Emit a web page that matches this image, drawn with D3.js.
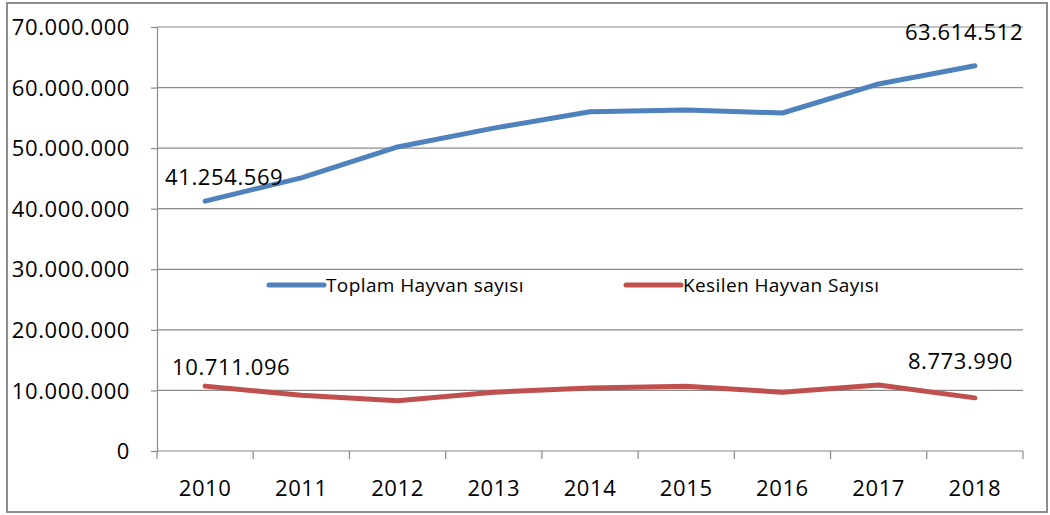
<!DOCTYPE html>
<html>
<head>
<meta charset="utf-8">
<script src="https://cdn.jsdelivr.net/npm/d3@7"></script>
<style>
	body { margin: 0; background: #fff; }
	svg text { font-family: "Open Sans", sans-serif; fill: #000; }
</style>
</head>
<body>
<script>
const years = ["2010", "2011", "2012", "2013", "2014", "2015", "2016", "2017", "2018"];
const toplam = [41254569, 45100000, 50200000, 53300000, 56000000, 56300000, 55800000, 60600000, 63614512];
const kesilen = [10711096, 9200000, 8300000, 9700000, 10400000, 10700000, 9700000, 10900000, 8773990];
const yTicks = [0, 10000000, 20000000, 30000000, 40000000, 50000000, 60000000, 70000000];
const seriesNames = ["Toplam Hayvan sayısı", "Kesilen Hayvan Sayısı"];

const width = 1050;
const height = 515;
const margin = { top: 27, right: 27, bottom: 64, left: 157 };

const trFormat = d3.formatLocale({ decimal: ",", thousands: ".", grouping: [3], currency: ["", ""] }).format(",");

const svg = d3.select("body")
	.append("svg")
	.attr("width", width)
	.attr("height", height);

// outer frame
svg.append("rect")
	.attr("x", 7)
	.attr("y", 3)
	.attr("width", 1040)
	.attr("height", 509)
	.attr("fill", "none")
	.attr("stroke", "#8c8c8c")
	.attr("stroke-width", 2);

const x = d3.scaleBand()
	.domain(years)
	.range([margin.left, width - margin.right]);

const y = d3.scaleLinear()
	.domain([0, 70000000])
	.range([height - margin.bottom, margin.top]);

// gridlines
svg.append("g")
	.selectAll("line")
	.data(yTicks.slice(1))
	.join("line")
	.attr("x1", margin.left)
	.attr("x2", width - margin.right)
	.attr("y1", d => y(d))
	.attr("y2", d => y(d))
	.attr("stroke", "#8a8a8a")
	.attr("stroke-width", 1.2);

// y axis
const yAxis = svg.append("g")
	.attr("transform", `translate(${margin.left},0)`)
	.call(d3.axisLeft(y).tickValues(yTicks).tickFormat(trFormat).tickSize(6).tickPadding(21));
yAxis.select(".domain").attr("stroke", "#8a8a8a").attr("stroke-width", 1.2);
yAxis.selectAll(".tick line").attr("stroke", "#8a8a8a").attr("stroke-width", 1.2);
yAxis.selectAll(".tick text")
	.style("font-family", "'Open Sans', sans-serif")
	.style("letter-spacing", "0.6px")
	.attr("font-size", 22)
	.attr("dy", "0.35em");

// x axis with ticks at category boundaries
const xAxis = svg.append("g")
	.attr("transform", `translate(0,${y(0)})`);
xAxis.append("line")
	.attr("x1", margin.left)
	.attr("x2", width - margin.right)
	.attr("stroke", "#8a8a8a")
	.attr("stroke-width", 1.2);
xAxis.selectAll("line.tk")
	.data(years.concat(["end"]))
	.join("line")
	.attr("class", "tk")
	.attr("x1", (d, i) => margin.left + i * x.step())
	.attr("x2", (d, i) => margin.left + i * x.step())
	.attr("y1", 0)
	.attr("y2", 8)
	.attr("stroke", "#8a8a8a")
	.attr("stroke-width", 1.2);
xAxis.selectAll("text")
	.data(years)
	.join("text")
	.attr("x", d => x(d) + x.bandwidth() / 2)
	.attr("y", 45)
	.attr("text-anchor", "middle")
	.attr("font-size", 22)
	.style("letter-spacing", "0.6px")
	.text(d => d);

const line = d3.line()
	.x((d, i) => x(years[i]) + x.bandwidth() / 2)
	.y(d => y(d));

const colors = ["#4f81bd", "#c0504d"];

[toplam, kesilen].forEach((vals, k) => {
	svg.append("path")
		.datum(vals)
		.attr("d", line)
		.attr("fill", "none")
		.attr("stroke", colors[k])
		.attr("stroke-width", 5)
		.attr("stroke-linecap", "round")
		.attr("stroke-linejoin", "round");
});

// data labels for first and last points
const cx = i => x(years[i]) + x.bandwidth() / 2;
const labels = [
	{ v: toplam[0], i: 0, dx: -40, dy: -16 },
	{ v: toplam[8], i: 8, dx: -70, dy: -26 },
	{ v: kesilen[0], i: 0, dx: -33, dy: -11 },
	{ v: kesilen[8], i: 8, dx: -67, dy: -29 }
];
svg.append("g")
	.selectAll("text")
	.data(labels)
	.join("text")
	.attr("x", d => cx(d.i) + d.dx)
	.attr("y", d => y(d.v) + d.dy)
	.attr("font-size", 22)
	.style("letter-spacing", "0.6px")
	.text(d => trFormat(d.v));

// legend
const legend = svg.append("g");
const legendX = [269, 626];
seriesNames.forEach((name, k) => {
	legend.append("line")
		.attr("x1", legendX[k])
		.attr("x2", legendX[k] + 55)
		.attr("y1", 285)
		.attr("y2", 285)
		.attr("stroke", colors[k])
		.attr("stroke-width", 5)
		.attr("stroke-linecap", "round");
	legend.append("text")
		.attr("x", legendX[k] + 57)
		.attr("y", 292)
		.attr("font-size", 19)
		.style("letter-spacing", "0.4px")
		.text(name);
});
</script>
</body>
</html>
